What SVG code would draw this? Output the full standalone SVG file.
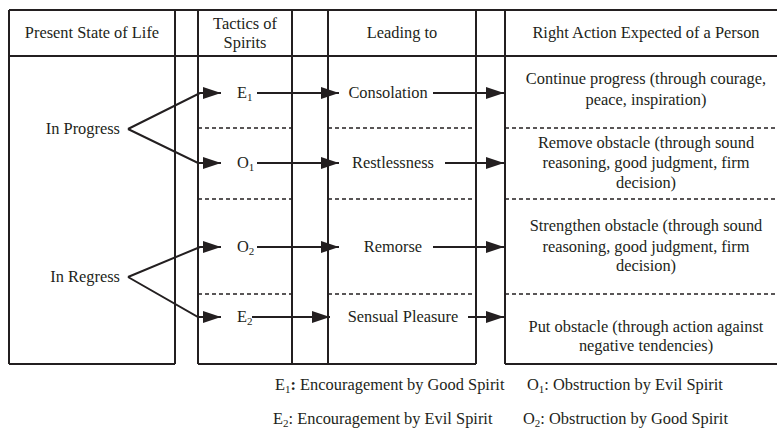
<svg xmlns="http://www.w3.org/2000/svg" width="777" height="432" viewBox="0 0 777 432">
<style>
text{font-family:'Liberation Serif','Times New Roman',Tinos,Times,'DejaVu Serif',serif;font-size:16.4px;fill:#231f20}
.c{text-anchor:middle}
.e{text-anchor:end}
.frame{stroke:#231f20;stroke-width:2;fill:none}
.dash{stroke:#231f20;stroke-width:1.5;stroke-dasharray:4 3;fill:none}
.con{stroke:#231f20;stroke-width:2;fill:none;marker-end:url(#ah)}
</style>
<defs>
<marker id="ah" markerUnits="userSpaceOnUse" markerWidth="20" markerHeight="14" refX="18" refY="6" orient="auto">
<path d="M0,0 L18,6 L0,12 Z" fill="#231f20"/>
</marker>
</defs>
<rect width="777" height="432" fill="#fff"/>
<g id="table">
<path class="frame" d="M9,10 H777 M9,56 H777 M9,364 H175 M198,364 H476 M505,364 H777 M9,10 V364 M175,10 V364 M198,10 V364 M292,10 V364 M328,10 V364 M476,10 V364 M505,10 V364"/>
<path class="dash" d="M198,128 H292 M328,128 H476 M505,128 H777 M198,199 H292 M328,199 H476 M505,199 H777 M198,294 H292 M328,294 H476 M505,294 H777"/>
</g>
<g id="headers">
<text class="c" x="92" y="38">Present State of Life</text>
<text class="c" x="245" y="29">Tactics of</text>
<text class="c" x="245" y="48">Spirits</text>
<text class="c" x="402" y="38">Leading to</text>
<text class="c" x="646" y="38">Right Action Expected of a Person</text>
</g>
<g id="in-progress"><text class="e" x="120" y="134">In Progress</text></g>
<g id="in-regress"><text class="e" x="120" y="282">In Regress</text></g>
<g id="E1"><text x="237" y="98">E<tspan font-size="11" dy="3">1</tspan></text></g>
<g id="O1"><text x="237" y="168">O<tspan font-size="11" dy="3">1</tspan></text></g>
<g id="O2"><text x="237" y="252">O<tspan font-size="11" dy="3">2</tspan></text></g>
<g id="E2"><text x="237" y="322">E<tspan font-size="11" dy="3">2</tspan></text></g>
<g id="consolation"><text class="c" x="388" y="98">Consolation</text></g>
<g id="restlessness"><text class="c" x="393" y="168">Restlessness</text></g>
<g id="remorse"><text class="c" x="393" y="252">Remorse</text></g>
<g id="sensual-pleasure"><text class="c" x="403" y="322">Sensual Pleasure</text></g>
<g id="action-continue">
<text class="c" x="646" y="84">Continue progress (through courage,</text>
<text class="c" x="646" y="105">peace, inspiration)</text>
</g>
<g id="action-remove">
<text class="c" x="646" y="148">Remove obstacle (through sound</text>
<text class="c" x="646" y="168">reasoning, good judgment, firm</text>
<text class="c" x="646" y="188">decision)</text>
</g>
<g id="action-strengthen">
<text class="c" x="646" y="231">Strengthen obstacle (through sound</text>
<text class="c" x="646" y="252">reasoning, good judgment, firm</text>
<text class="c" x="646" y="271">decision)</text>
</g>
<g id="action-put">
<text class="c" x="646" y="332">Put obstacle (through action against</text>
<text class="c" x="646" y="351">negative tendencies)</text>
</g>
<g id="connectors">
<path class="con" d="M128,129 L200,93 L221,93"/>
<path class="con" d="M128,129 L198,163 L221,163"/>
<path class="con" d="M128,277 L200,247 L221,247"/>
<path class="con" d="M128,277 L198,317 L221,317"/>
<path class="con" d="M257,93 H339"/>
<path class="con" d="M257,163 H339"/>
<path class="con" d="M257,247 H339"/>
<path class="con" d="M252,317 H330"/>
<path class="con" d="M433,93 H504"/>
<path class="con" d="M445,163 H504"/>
<path class="con" d="M433,247 H504"/>
<path class="con" d="M468,317 H504"/>
</g>
<g id="legend">
<text x="275" y="390">E<tspan font-size="11" dy="3">1</tspan><tspan dy="-3" font-weight="bold">:</tspan> Encouragement by Good Spirit</text>
<text x="527" y="390">O<tspan font-size="11" dy="3">1</tspan><tspan dy="-3">:</tspan> Obstruction by Evil Spirit</text>
<text x="273" y="424">E<tspan font-size="11" dy="3">2</tspan><tspan dy="-3">:</tspan> Encouragement by Evil Spirit</text>
<text x="523" y="424">O<tspan font-size="11" dy="3">2</tspan><tspan dy="-3">:</tspan> Obstruction by Good Spirit</text>
</g>
</svg>
